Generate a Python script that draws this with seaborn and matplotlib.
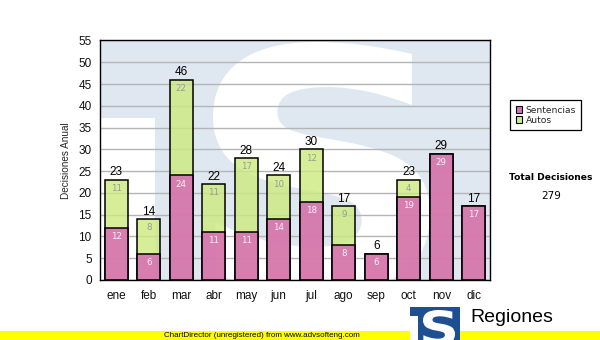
import matplotlib
matplotlib.use("Agg")
import matplotlib.pyplot as plt
from matplotlib.patches import Rectangle, Patch, PathPatch
from matplotlib.colors import to_rgba
from matplotlib.textpath import TextPath
from matplotlib.font_manager import FontProperties
from matplotlib.transforms import Affine2D
import seaborn as sns
import pandas as pd

meses = ["ene", "feb", "mar", "abr", "may", "jun", "jul", "ago", "sep", "oct", "nov", "dic"]
sentencias = [12, 6, 24, 11, 11, 14, 18, 8, 6, 19, 29, 17]
autos = [11, 8, 22, 11, 17, 10, 12, 9, 0, 4, 0, 0]
series = ["Sentencias", "Autos"]
y_ticks = list(range(0, 56, 5))

totales = [s + a for s, a in zip(sentencias, autos)]
total_decisiones = sum(totales)

df = pd.DataFrame({"mes": meses, "Sentencias": sentencias, "Autos": autos, "Total": totales})

PINK = "#d862b6"
GREEN = "#cdea7e"
FILL_ALPHA = 0.8
W, H = 600, 340


def glyph_patch(char, box, color, zorder):
    """Path of a bold glyph stretched into box=(x0, y0, x1, y1) in pixels from top-left."""
    tp = TextPath((0, 0), char, size=1, prop=FontProperties(family="DejaVu Sans", weight="bold"))
    ext = tp.get_extents()
    x0, y0, x1, y1 = box
    sx = (x1 - x0) / W / ext.width
    sy = (y1 - y0) / H / ext.height
    tr = Affine2D().translate(-ext.x0, -ext.y0).scale(sx, sy).translate(x0 / W, 1 - y1 / H)
    return PathPatch(tr.transform_path(tp), facecolor=color, edgecolor="none", zorder=zorder)


sns.set_style("white")
plt.rcParams["font.family"] = ["Liberation Sans", "DejaVu Sans"]

fig = plt.figure(figsize=(6, 3.4), dpi=100)
fig.patch.set_facecolor("white")
ax = fig.add_axes([100 / W, 60 / H, 390 / W, 239.5 / H])
ax.set_facecolor("#dfe8f1")

# stacked bars: totals (autos on top) then sentencias over the lower part
sns.barplot(data=df, x="mes", y="Total", color=GREEN, saturation=1, width=0.71,
            edgecolor="black", linewidth=1.1, ax=ax, zorder=2)
sns.barplot(data=df, x="mes", y="Sentencias", color=PINK, saturation=1, width=0.71,
            edgecolor="black", linewidth=1.1, ax=ax, zorder=3)
for cont, base in zip(ax.containers, [GREEN, PINK]):
    for p in cont:
        p.set_facecolor(to_rgba(base, FILL_ALPHA))
        p.set_edgecolor("black")

# faded logo behind the plot
ax.add_patch(Rectangle((0, 0), 55 / 390, 162 / 239.5, transform=ax.transAxes,
                       facecolor="white", edgecolor="none", zorder=0.2))
s_mark = glyph_patch("S", (213, 42, 430, 292), "white", 0.3)
s_mark.set_transform(fig.transFigure)
ax.add_artist(s_mark)
s_mark.set_clip_path(ax.patch)

n = len(meses)
ax.set_xlim(-0.5, n - 0.5)
ax.set_ylim(0, 55)
ax.set_yticks(y_ticks)
ax.yaxis.grid(True, color="#b5b5b5", linewidth=1)
ax.xaxis.grid(False)
ax.set_axisbelow(True)
for sp in ax.spines.values():
    sp.set_visible(True)
    sp.set_color("black")
    sp.set_linewidth(1)
ax.tick_params(axis="both", direction="out", length=4, width=1, color="black",
               labelsize=8.5, labelcolor="#111111", pad=2)
ax.tick_params(axis="x", pad=3)
ax.set_xlabel("")
ax.set_ylabel("Decisiones Anual", fontsize=7.2, labelpad=5)

# value labels
for i in range(n):
    ax.annotate(str(totales[i]), (i, totales[i]), xytext=(0, 1), textcoords="offset points",
                ha="center", va="bottom", fontsize=8.5, color="black", zorder=5)
    ax.annotate(str(sentencias[i]), (i, sentencias[i]), xytext=(0, -3),
                textcoords="offset points", ha="center", va="top", fontsize=6.3,
                family="DejaVu Sans", color="#fbf0f8", zorder=5)
    if autos[i] > 0:
        ax.annotate(str(autos[i]), (i, totales[i]), xytext=(0, -3),
                    textcoords="offset points", ha="center", va="top", fontsize=6.3,
                    family="DejaVu Sans", color="#9a9a9a", zorder=5)

# legend
handles = [Patch(facecolor=to_rgba(PINK, 0.9), edgecolor="black", linewidth=0.8),
           Patch(facecolor=to_rgba(GREEN, 0.9), edgecolor="black", linewidth=0.8)]
leg = fig.legend(handles, series, loc="upper left", bbox_to_anchor=(510 / W, 1 - 100 / H),
                 frameon=True, fancybox=False, framealpha=1, edgecolor="black",
                 prop={"family": "DejaVu Sans", "size": 6.6}, handlelength=0.75,
                 handleheight=0.75, handletextpad=0.35, borderpad=0.6, labelspacing=0.15,
                 borderaxespad=0)
leg.get_frame().set_linewidth(0.9)

fig.text(551 / W, 1 - 178 / H, "Total Decisiones", ha="center", va="center",
         fontsize=6.6, fontweight="bold", family="DejaVu Sans", color="black")
fig.text(551 / W, 1 - 196 / H, str(total_decisiones), ha="center", va="center",
         fontsize=7.6, family="DejaVu Sans", color="black")

# footer band and logo
fig.patches.append(Rectangle((0, 0), 1, 9.5 / H, transform=fig.transFigure,
                             facecolor="#ffff00", edgecolor="none", zorder=1))
fig.text(262 / W, 4.5 / H, "ChartDirector (unregistered) from www.advsofteng.com",
         ha="center", va="center", fontsize=5.8, color="black", zorder=3)
fig.patches.append(Rectangle((410 / W, 0), 50 / W, 33 / H, transform=fig.transFigure,
                             facecolor="#1d4f91", edgecolor="none", zorder=2))
fig.patches.append(Rectangle((410 / W, 0), 8 / W, 24 / H, transform=fig.transFigure,
                             facecolor="white", edgecolor="none", zorder=2))
logo_s = glyph_patch("S", (423, 310, 455, 345), "white", 3)
logo_s.set_transform(fig.transFigure)
fig.patches.append(logo_s)
fig.text(470 / W, 1 - 322 / H, "Regiones", ha="left", va="baseline", fontsize=14,
         color="black", zorder=3)

fig.savefig("out.png", dpi=100, facecolor="white")
